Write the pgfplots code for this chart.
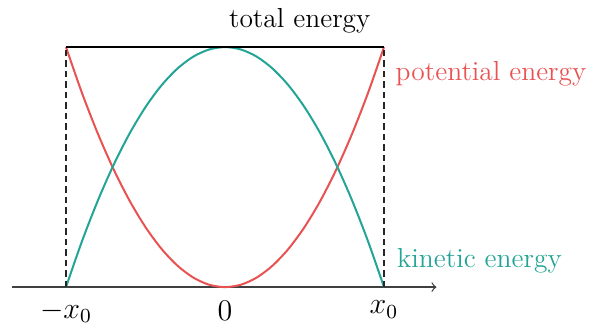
\documentclass[border=0pt]{standalone}
\usepackage{pgfplots}
\pgfplotsset{compat=1.18}
\definecolor{pot}{RGB}{232,82,82}
\definecolor{kin}{RGB}{34,164,150}
\begin{document}
\begin{tikzpicture}
\begin{axis}[
  x=63.6pt, y=96pt,
  xmin=-1.34, xmax=1.33, ymin=0, ymax=1,
  axis x line=middle, axis y line=none,
  x axis line style={->, draw=black!75, line width=0.5pt},
  xtick={-1,0,1}, xticklabels={$-x_0$,$0$,$x_0$},
  major tick length=0pt,
  xticklabel style={font=\fontsize{11.5}{14}\selectfont, yshift=-2pt},
  clip=false,
]
\addplot[pot, line width=0.8pt, smooth] coordinates {
(-1,1) (-0.9,0.81) (-0.8,0.64) (-0.7,0.49) (-0.6,0.36) (-0.5,0.25) (-0.4,0.16) (-0.3,0.09) (-0.2,0.04) (-0.1,0.01) (0,0)
(0.1,0.01) (0.2,0.04) (0.3,0.09) (0.4,0.16) (0.5,0.25) (0.6,0.36) (0.7,0.49) (0.8,0.64) (0.9,0.81) (1,1)};
\addplot[kin, line width=0.8pt, smooth] coordinates {
(-1,0) (-0.9,0.19) (-0.8,0.36) (-0.7,0.51) (-0.6,0.64) (-0.5,0.75) (-0.4,0.84) (-0.3,0.91) (-0.2,0.96) (-0.1,0.99) (0,1)
(0.1,0.99) (0.2,0.96) (0.3,0.91) (0.4,0.84) (0.5,0.75) (0.6,0.64) (0.7,0.51) (0.8,0.36) (0.9,0.19) (1,0)};
\addplot[black, line width=1pt] coordinates {(-1,1) (1,1)};
\addplot[black!85, line width=0.45pt, dash pattern=on 2.6pt off 1.6pt] coordinates {(-1,0) (-1,1)};
\addplot[black!85, line width=0.45pt, dash pattern=on 2.6pt off 1.6pt] coordinates {(1,0) (1,1)};
\node[font=\fontsize{11}{13}\selectfont, anchor=center] at (axis cs:0.47,1.11) {total energy};
\node[font=\fontsize{11}{13}\selectfont, text=pot, anchor=west, inner sep=0pt] at (axis cs:1.07,0.89) {potential energy};
\node[font=\fontsize{11}{13}\selectfont, text=kin, anchor=west, inner sep=0pt] at (axis cs:1.08,0.11) {kinetic energy};
\path (axis cs:-1.415,-0.158) rectangle (axis cs:2.371,1.196);
\end{axis}
\end{tikzpicture}
\end{document}
